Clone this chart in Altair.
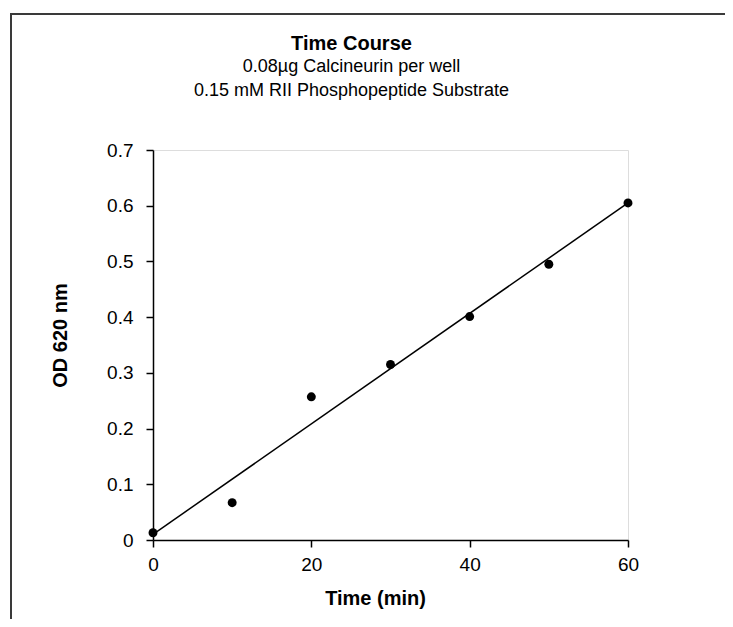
import altair as alt
import pandas as pd

time_min = [0, 10, 20, 30, 40, 50, 60]
od620 = [0.013, 0.067, 0.257, 0.315, 0.401, 0.495, 0.605]
x_ticks = [0, 20, 40, 60]
y_ticks = [0, 0.1, 0.2, 0.3, 0.4, 0.5, 0.6, 0.7]

df = pd.DataFrame({"Time (min)": time_min, "OD 620 nm": od620})
frame_df = pd.DataFrame({"k": [0]})

FONT = "Liberation Sans"

x_enc = alt.X(
    "Time (min):Q",
    scale=alt.Scale(domain=[0, 60], nice=False, zero=False),
    axis=alt.Axis(
        values=x_ticks, grid=False, title="Time (min)",
        titleFontSize=20, titleFontWeight="bold", titleFont=FONT, titleColor="black",
        titleX=222, titleY=64, titleBaseline="alphabetic", titleAlign="center",
        labelFontSize=19, labelFont=FONT, labelColor="black", labelPadding=8,
        tickSize=7, tickColor="black", tickWidth=1.5,
        domainColor="black", domainWidth=1.5, labelFlush=False,
    ),
)
y_enc = alt.Y(
    "OD 620 nm:Q",
    scale=alt.Scale(domain=[0, 0.7], nice=False, zero=False),
    axis=alt.Axis(
        values=y_ticks, grid=False, title="OD 620 nm",
        labelExpr="datum.value == 0 ? '0' : format(datum.value, '.1f')",
        titleFontSize=20, titleFontWeight="bold", titleFont=FONT, titleColor="black",
        titleX=-93, titleY=185, titleAngle=270, titleBaseline="middle", titleAlign="center",
        labelFontSize=19, labelFont=FONT, labelColor="black", labelPadding=13,
        tickSize=7, tickColor="black", tickWidth=1.5,
        domainColor="black", domainWidth=1.5, labelFlush=False,
    ),
)

base = alt.Chart(df)

points = base.mark_circle(size=80, color="black", opacity=1).encode(x=x_enc, y=y_enc)

fit = base.transform_regression("Time (min)", "OD 620 nm").mark_line(
    color="black", strokeWidth=1.5
).encode(x=x_enc, y=y_enc)

frame_left = alt.Chart(frame_df).mark_rule(color="#3a3a3a", strokeWidth=2).encode(
    x=alt.value(-142), y=alt.value(-136), y2=alt.value(470)
)
frame_top = alt.Chart(frame_df).mark_rule(color="#3a3a3a", strokeWidth=2).encode(
    x=alt.value(-143), x2=alt.value(575), y=alt.value(-136)
)

chart = alt.layer(frame_left, frame_top, fit, points).properties(
    width=475,
    height=390,
    padding={"left": 145, "top": 142, "right": 97, "bottom": 79},
    autosize=alt.AutoSizeParams(type="none"),
    title=alt.TitleParams(
        text="Time Course",
        subtitle=["0.08µg Calcineurin per well", "0.15 mM RII Phosphopeptide Substrate"],
        anchor="middle",
        font=FONT, fontSize=20, fontWeight="bold", color="black",
        subtitleFont=FONT, subtitleFontSize=18, subtitleColor="black",
        subtitleLineHeight=24, subtitlePadding=4,
        offset=-87, dx=-39,
    ),
).configure_view(stroke="#a0a0a0", strokeWidth=2).configure(background="white")

chart.save("out.html", embed_options={"renderer": "svg", "actions": False})
